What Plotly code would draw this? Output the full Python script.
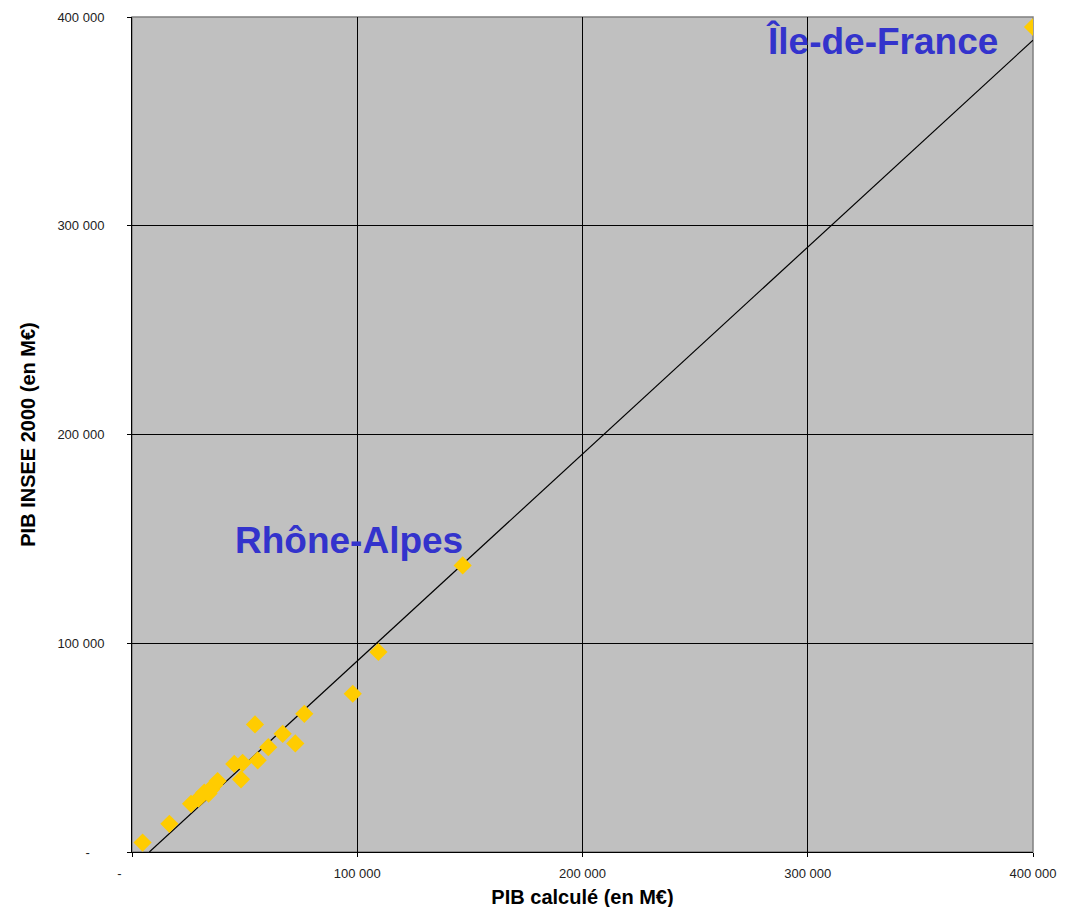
import plotly.graph_objects as go

# Data (M€)
pib_calcule = [4700, 16600, 26200, 29500, 32100, 34000, 35100, 36500, 38000, 45400,
               49100, 48400, 55800, 54600, 60500, 66900, 72500, 76500, 98000, 109400,
               146800, 400000]
pib_insee = [4500, 13500, 23100, 25500, 28500, 28000, 30000, 32000, 34000, 42200,
             42700, 34800, 43900, 61100, 50200, 56600, 52000, 66200, 75800, 95800,
             137300, 395200]

trend_x = [7700, 400000]
trend_y = [0, 388900]

tick_vals = [0, 100000, 200000, 300000, 400000]
x_tick_text = ["-" + "\u00a0" * 7, "100 000", "200 000", "300 000", "400 000"]
y_tick_text = ["-" + "\u00a0" * 4, "100 000", "200 000", "300 000", "400 000"]

labels = ["Île-de-France", "Rhône-Alpes"]
label_x = [333000, 96300]
label_y = [388500, 149000]

FONT = "Liberation Sans, Arial, sans-serif"

fig = go.Figure()
fig.add_trace(go.Scatter(x=trend_x, y=trend_y, mode="lines",
                         line=dict(color="black", width=1.2), showlegend=False,
                         hoverinfo="skip"))
fig.add_trace(go.Scatter(x=pib_calcule, y=pib_insee, mode="markers",
                         marker=dict(symbol="diamond", size=14, color="#FFCC00",
                                     line=dict(width=0)),
                         showlegend=False))

for t, xx, yy in zip(labels, label_x, label_y):
    fig.add_annotation(x=xx, y=yy, text="<b>" + t + "</b>", showarrow=False,
                       xanchor="center", yanchor="middle",
                       font=dict(family=FONT, size=37, color="#3333CC"))

fig.add_shape(type="rect", xref="paper", yref="paper", x0=0, y0=0, x1=1, y1=1,
              line=dict(color="#808080", width=1.5), layer="below")

axis_common = dict(
    range=[0, 400000], tickvals=tick_vals, showgrid=True, gridcolor="black",
    gridwidth=1, zeroline=False, showline=True, linecolor="black", linewidth=1,
    ticks="outside", ticklen=4, tickcolor="black", ticklabeloverflow="allow",
    tickfont=dict(family=FONT, size=13, color="#222222"),
)

fig.update_layout(
    width=1066, height=907,
    margin=dict(l=124, r=41, t=2, b=63),
    paper_bgcolor="white", plot_bgcolor="#C0C0C0",
    font=dict(family=FONT, color="black"),
    xaxis=dict(axis_common, ticktext=x_tick_text, ticklabelstandoff=5,
               title=dict(text="<b>PIB calculé (en M€)</b>",
                          font=dict(family=FONT, size=20, color="black"),
                          standoff=10)),
    yaxis=dict(axis_common, ticktext=y_tick_text, ticklabelstandoff=20,
               title=dict(text="<b>PIB INSEE 2000 (en M€)</b>",
                          font=dict(family=FONT, size=20, color="black"),
                          standoff=16)),
)

fig.write_html("out.html")
